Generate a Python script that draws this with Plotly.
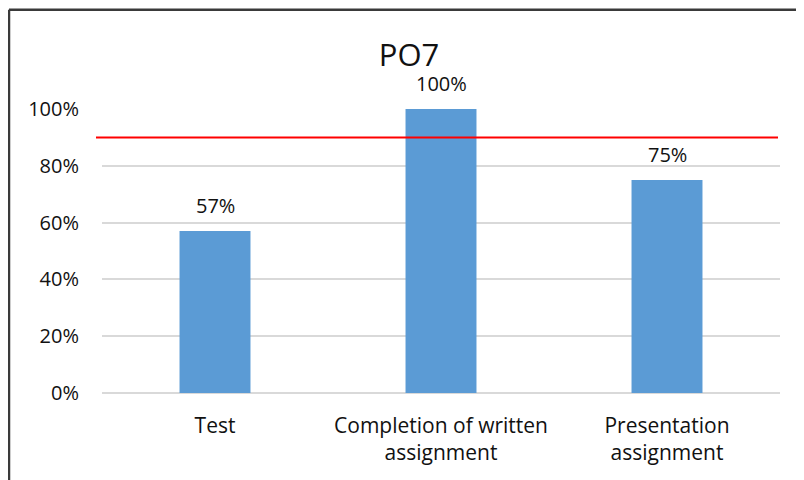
import plotly.graph_objects as go

categories = ["Test", "Completion of written<br>assignment", "Presentation<br>assignment"]
values = [0.57, 1.00, 0.75]
value_labels = ["57%", "100%", "75%"]
target = 0.90
tick_vals = [0, 0.2, 0.4, 0.6, 0.8, 1.0]
tick_text = ["0%", "20%", "40%", "60%", "80%", "100%"]
title_text = "PO7"

# page is offset by 8px body margin; figure sized to fit the window
W, H = 796, 472
L, R, T, B = 94, 24, 101, 86.5
pw, ph = W - L - R, H - T - B

FONT = "Open Sans"
TXT = "#111111"
fig = go.Figure()
fig.add_trace(go.Bar(
    x=categories, y=values, width=0.314,
    marker=dict(color="#5B9BD5", line=dict(width=0)),
    hoverinfo="skip",
))

for c, v, t in zip(categories, values, value_labels):
    fig.add_annotation(x=c, y=v, text=t, showarrow=False, yanchor="middle",
                       yshift=26, font=dict(family=FONT, size=20, color=TXT))

# target line
fig.add_shape(type="line", xref="paper", yref="y",
              x0=(88 - L) / pw, x1=(770 - L) / pw, y0=target, y1=target,
              line=dict(color="#FF0000", width=2))

# outer frame (cropped chart border)
top_y = 1 + (T - 1.5) / ph
left_x = (1 - L) / pw
fig.add_shape(type="line", xref="paper", yref="paper",
              x0=left_x, x1=1.2, y0=top_y, y1=top_y,
              line=dict(color="#3a3a3a", width=2.5))
fig.add_shape(type="line", xref="paper", yref="paper",
              x0=left_x, x1=left_x, y0=-0.5, y1=top_y,
              line=dict(color="#3a3a3a", width=2.5))

fig.update_layout(
    width=W, height=H,
    margin=dict(l=L, r=R, t=T, b=B),
    paper_bgcolor="white", plot_bgcolor="white",
    showlegend=False,
    title=dict(text=title_text, x=401 / W, xanchor="center", xref="container",
               y=1 - 47 / H, yanchor="middle",
               font=dict(family=FONT, size=31, color=TXT)),
    xaxis=dict(showgrid=False, showline=False, ticks="", ticklabelstandoff=18,
               tickfont=dict(family=FONT, size=21, color=TXT)),
    yaxis=dict(range=[0, 1.0], tickvals=tick_vals, ticktext=tick_text,
               showgrid=True, gridcolor="#D9D9D9", gridwidth=1.5,
               zeroline=True, zerolinecolor="#D9D9D9", zerolinewidth=1.5,
               showline=False, ticks="", ticklabelstandoff=22,
               tickfont=dict(family=FONT, size=20, color=TXT)),
)

fig.write_html("out.html")
